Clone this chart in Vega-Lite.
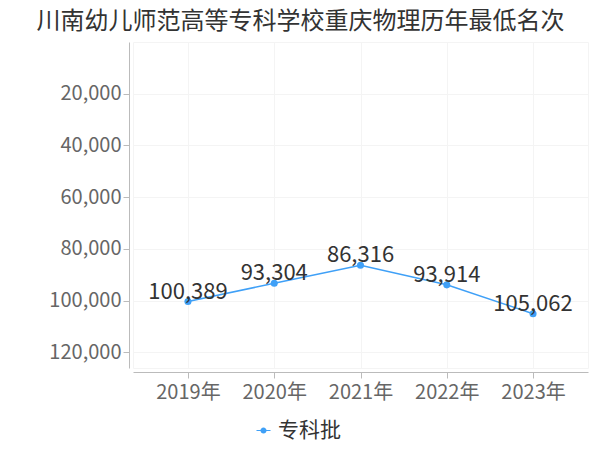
{
  "$schema": "https://vega.github.io/schema/vega-lite/v6.json",
  "autosize": {"type": "none"},
  "width": 455,
  "height": 326,
  "padding": {"left": 133, "top": 42, "right": 12, "bottom": 82},
  "title": {
    "text": "川南幼儿师范高等专科学校重庆物理历年最低名次",
    "font": "Noto Sans CJK SC",
    "fontSize": 24,
    "fontWeight": "normal",
    "color": "#333333",
    "anchor": "middle",
    "dx": -60,
    "offset": 8
  },
  "config": {
    "view": {"stroke": "#f4f4f4"},
    "font": "Noto Sans CJK SC"
  },
  "data": {
    "values": [
      {"year": "2019年", "rank": 100389, "batch": "专科批"},
      {"year": "2020年", "rank": 93304, "batch": "专科批"},
      {"year": "2021年", "rank": 86316, "batch": "专科批"},
      {"year": "2022年", "rank": 93914, "batch": "专科批"},
      {"year": "2023年", "rank": 105062, "batch": "专科批"}
    ]
  },
  "encoding": {
    "x": {
      "field": "year",
      "type": "ordinal",
      "scale": {"type": "point", "padding": 0.637},
      "axis": {
        "title": null,
        "labelAngle": 0,
        "labelFont": "Noto Sans CJK SC",
        "labelFontSize": 20,
        "labelColor": "#666666",
        "labelPadding": 4,
        "domainColor": "#bbbbbb",
        "tickColor": "#bbbbbb",
        "tickSize": 6,
        "offset": 4,
        "grid": true,
        "gridColor": "#f4f4f4"
      }
    },
    "y": {
      "field": "rank",
      "type": "quantitative",
      "scale": {"domain": [0, 126074], "reverse": true, "nice": false, "zero": false},
      "axis": {
        "title": null,
        "values": [20000, 40000, 60000, 80000, 100000, 120000],
        "format": ",d",
        "labelFont": "Noto Sans CJK SC",
        "labelFontSize": 20,
        "labelColor": "#666666",
        "labelPadding": 2,
        "domainColor": "#bbbbbb",
        "tickColor": "#bbbbbb",
        "tickSize": 6,
        "offset": 4,
        "grid": true,
        "gridColor": "#f4f4f4"
      }
    }
  },
  "layer": [
    {
      "mark": {"type": "line", "strokeWidth": 1.5, "point": {"size": 50, "filled": true, "opacity": 1}},
      "encoding": {
        "color": {
          "field": "batch",
          "type": "nominal",
          "scale": {"range": ["#3fa0f7"]},
          "legend": {
            "title": null,
            "orient": "none",
            "legendX": 120,
            "legendY": 378,
            "labelFont": "Noto Sans CJK SC",
            "labelFontSize": 21,
            "labelColor": "#333333",
            "symbolType": "M-1,-0.08H1V0.08H-1Z M0.43,0 A0.43,0.43 0 1,1 -0.43,0 A0.43,0.43 0 1,1 0.43,0Z",
            "symbolSize": 196,
            "symbolFillColor": "#3fa0f7",
            "symbolStrokeWidth": 0,
            "labelOffset": 4
          }
        }
      }
    },
    {
      "mark": {"type": "text", "dy": -3, "baseline": "alphabetic", "fontSize": 22, "color": "#333333", "font": "Noto Sans CJK SC"},
      "encoding": {
        "text": {"field": "rank", "type": "quantitative", "format": ",d"}
      }
    }
  ]
}
